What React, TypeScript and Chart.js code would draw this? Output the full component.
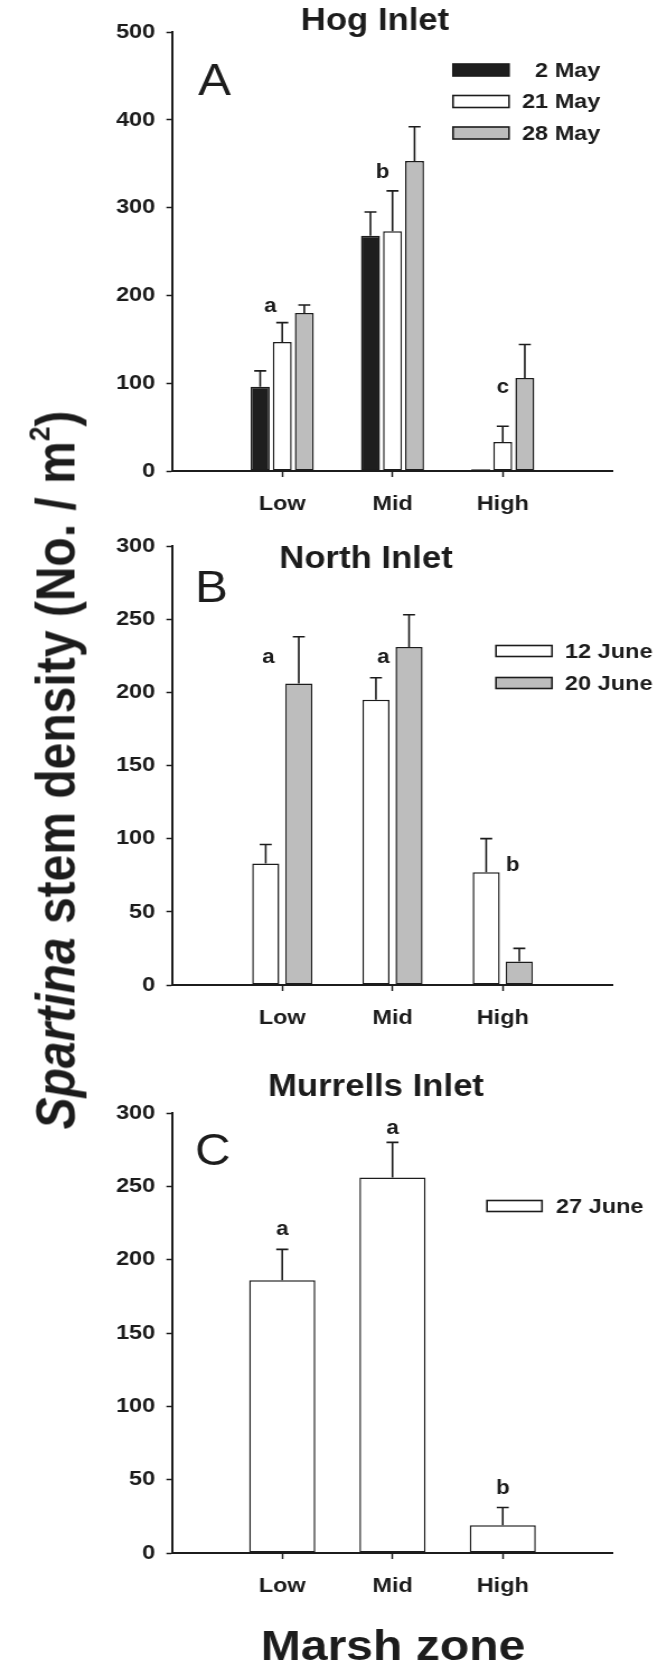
import React, { useEffect, useRef } from 'react';
import { Chart, registerables } from 'chart.js';

Chart.register(...registerables);

const FONT = '"Liberation Sans", Arial, Helvetica, sans-serif';
const INK = '#1c1c1c';
const BLACK_FILL = '#1e1e1e';
const WHITE_FILL = '#ffffff';
const GRAY_FILL = '#bdbdbd';
const PAGE_W = 667;
const CANVAS_W = 596;
const SX = PAGE_W / CANVAS_W; // the original figure is slightly stretched horizontally

// ---- categories ----
const zones = ['Low', 'Mid', 'High'];

// ---- Panel A: Hog Inlet ----
const hogDates = ['2 May', '21 May', '28 May'];
const hog2May = [96, 268, 2];
const hog2MayErr = [18, 27, 0];
const hog21May = [147, 273, 33];
const hog21MayErr = [22, 46, 18];
const hog28May = [180, 353, 106];
const hog28MayErr = [9, 39, 38];
const hogLetters = ['a', 'b', 'c'];
const hogLetterAt = [181, 334, 89];
const hogTicks = [0, 100, 200, 300, 400, 500];

// ---- Panel B: North Inlet ----
const northDates = ['12 June', '20 June'];
const north12Jun = [83, 195, 77];
const north12JunErr = [13, 15, 23];
const north20Jun = [206, 231, 16];
const north20JunErr = [32, 22, 9];
const northLetters = ['a', 'a', 'b'];
const northLetterAt = [220, 220, 78];
const northTicks = [0, 50, 100, 150, 200, 250, 300];

// ---- Panel C: Murrells Inlet ----
const murrellsDates = ['27 June'];
const murrells27Jun = [186, 256, 19];
const murrells27JunErr = [21, 24, 12];
const murrellsLetters = ['a', 'a', 'b'];
const murrellsLetterAt = [217, 286, 40];
const murrellsTicks = [0, 50, 100, 150, 200, 250, 300];

type Series = { label: string; values: number[]; errors: number[]; fill: string };
type Panel = {
  key: string;
  top: number;
  height: number;
  padTop: number;
  xHeight: number;
  title: string;
  titleX: number;
  titleY: number;
  tag: string;
  tagX: number;
  tagY: number;
  series: Series[];
  barPct: number;
  ticks: number[];
  letters: string[];
  letterAt: number[];
  letterDx: number[];
  legend: { x: number; y: number; dy: number; w: number; h: number; gap: number; alignRight: boolean };
  footer?: { text: string; x: number; y: number };
};

const panels: Panel[] = [
  {
    key: 'A',
    top: 0,
    height: 520,
    padTop: 32,
    xHeight: 49,
    title: 'Hog Inlet',
    titleX: 375,
    titleY: 30,
    tag: 'A',
    tagX: 198,
    tagY: 95,
    series: [
      { label: hogDates[0], values: hog2May, errors: hog2MayErr, fill: BLACK_FILL },
      { label: hogDates[1], values: hog21May, errors: hog21MayErr, fill: WHITE_FILL },
      { label: hogDates[2], values: hog28May, errors: hog28MayErr, fill: GRAY_FILL },
    ],
    barPct: 0.86,
    ticks: hogTicks,
    letters: hogLetters,
    letterAt: hogLetterAt,
    letterDx: [-12, -10, 0],
    legend: { x: 453, y: 70, dy: 31.5, w: 56, h: 12, gap: 13, alignRight: true },
  },
  {
    key: 'B',
    top: 520,
    height: 530,
    padTop: 26,
    xHeight: 65,
    title: 'North Inlet',
    titleX: 366,
    titleY: 568,
    tag: 'B',
    tagX: 195,
    tagY: 602,
    series: [
      { label: northDates[0], values: north12Jun, errors: north12JunErr, fill: WHITE_FILL },
      { label: northDates[1], values: north20Jun, errors: north20JunErr, fill: GRAY_FILL },
    ],
    barPct: 0.82,
    ticks: northTicks,
    letters: northLetters,
    letterAt: northLetterAt,
    letterDx: [-14, -9, 10],
    legend: { x: 496, y: 651, dy: 32, w: 56, h: 11, gap: 13, alignRight: false },
  },
  {
    key: 'C',
    top: 1050,
    height: 619,
    padTop: 63,
    xHeight: 116,
    title: 'Murrells Inlet',
    titleX: 376,
    titleY: 1096,
    tag: 'C',
    tagX: 195,
    tagY: 1165,
    series: [{ label: murrellsDates[0], values: murrells27Jun, errors: murrells27JunErr, fill: WHITE_FILL }],
    barPct: 1.0,
    ticks: murrellsTicks,
    letters: murrellsLetters,
    letterAt: murrellsLetterAt,
    letterDx: [0, 0, 0],
    legend: { x: 487, y: 1206, dy: 32, w: 55, h: 11, gap: 14, alignRight: false },
    footer: { text: 'Marsh zone', x: 393, y: 1660 },
  },
];

function makeDecor(p: Panel) {
  return {
    id: 'decor' + p.key,
    afterDatasetsDraw(chart: any) {
      const ctx = chart.ctx as CanvasRenderingContext2D;
      const xs = chart.scales.x;
      const ys = chart.scales.y;
      const X = (x: number) => x / SX;
      const Y = (y: number) => y - p.top;
      ctx.save();
      // error bars (upper only)
      ctx.strokeStyle = INK;
      ctx.lineWidth = 1.6;
      p.series.forEach((s, i) => {
        const meta = chart.getDatasetMeta(i);
        meta.data.forEach((bar: any, j: number) => {
          const k = j - 1;
          if (k < 0 || k >= s.values.length) return;
          const e = s.errors[k];
          if (!e) return;
          const yTop = ys.getPixelForValue(s.values[k] + e);
          const half = 12 / SX / 2;
          ctx.beginPath();
          ctx.moveTo(bar.x, bar.y);
          ctx.lineTo(bar.x, yTop);
          ctx.moveTo(bar.x - half, yTop);
          ctx.lineTo(bar.x + half, yTop);
          ctx.stroke();
        });
      });
      ctx.fillStyle = INK;
      // title
      ctx.font = `bold 31px ${FONT}`;
      ctx.textAlign = 'center';
      ctx.textBaseline = 'alphabetic';
      ctx.fillText(p.title, X(p.titleX), Y(p.titleY));
      // panel tag
      ctx.font = `44px ${FONT}`;
      ctx.textAlign = 'left';
      ctx.fillText(p.tag, X(p.tagX), Y(p.tagY));
      // significance letters
      ctx.font = `bold 20px ${FONT}`;
      ctx.textAlign = 'center';
      p.letters.forEach((t, k) => {
        const x = xs.getPixelForValue(k + 1) + p.letterDx[k] / SX;
        const y = ys.getPixelForValue(p.letterAt[k]);
        ctx.fillText(t, x, y);
      });
      // legend
      ctx.font = `bold 21px ${FONT}`;
      const maxW = Math.max(...p.series.map((s) => ctx.measureText(s.label).width));
      const L = p.legend;
      p.series.forEach((s, k) => {
        const cy = Y(L.y + k * L.dy);
        const bx = X(L.x);
        const bw = L.w / SX;
        ctx.fillStyle = s.fill;
        ctx.fillRect(bx, cy - L.h / 2, bw, L.h);
        ctx.strokeStyle = INK;
        ctx.lineWidth = 1.6;
        ctx.strokeRect(bx, cy - L.h / 2, bw, L.h);
        ctx.fillStyle = INK;
        ctx.textBaseline = 'middle';
        const tx = bx + bw + L.gap / SX;
        if (L.alignRight) {
          ctx.textAlign = 'right';
          ctx.fillText(s.label, tx + maxW, cy + 1);
        } else {
          ctx.textAlign = 'left';
          ctx.fillText(s.label, tx, cy + 1);
        }
      });
      // axis title under the last panel
      if (p.footer) {
        ctx.font = `bold 43px ${FONT}`;
        ctx.textAlign = 'center';
        ctx.textBaseline = 'alphabetic';
        ctx.fillText(p.footer.text, X(p.footer.x), Y(p.footer.y));
      }
      ctx.restore();
    },
  };
}

function buildConfig(p: Panel): any {
  const tickFont = { family: FONT, size: 21, weight: 'bold' as const };
  return {
    type: 'bar',
    data: {
      labels: ['', ...zones, ''],
      datasets: p.series.map((s) => ({
        label: s.label,
        data: [null, ...s.values, null],
        backgroundColor: s.fill,
        borderColor: INK,
        borderWidth: 1.5,
        borderSkipped: false,
        categoryPercentage: 0.6,
        barPercentage: p.barPct,
      })),
    },
    options: {
      responsive: false,
      animation: false,
      devicePixelRatio: 1,
      layout: { padding: { top: p.padTop, right: CANVAS_W - 613 / SX, bottom: 0, left: 0 } },
      plugins: { legend: { display: false }, tooltip: { enabled: false }, title: { display: false } },
      scales: {
        x: {
          offset: false,
          grid: {
            display: true,
            offset: false,
            drawOnChartArea: false,
            drawTicks: true,
            tickLength: 6,
            tickWidth: 1.5,
            tickColor: (c: any) => (c.index === 0 || c.index === 4 ? 'rgba(0,0,0,0)' : INK),
          },
          border: { display: true, color: INK, width: 2 },
          ticks: { color: INK, padding: 15, font: tickFont, maxRotation: 0, autoSkip: false },
          afterFit: (s: any) => {
            s.height = p.xHeight;
          },
        },
        y: {
          min: p.ticks[0],
          max: p.ticks[p.ticks.length - 1],
          grid: { drawOnChartArea: false, drawTicks: true, tickLength: 5, tickWidth: 1.5, tickColor: INK },
          border: { display: true, color: INK, width: 2 },
          ticks: { stepSize: p.ticks[1] - p.ticks[0], color: INK, padding: 10, font: tickFont },
          afterFit: (s: any) => {
            s.width = 172 / SX;
          },
        },
      },
    },
    plugins: [makeDecor(p)],
  };
}

function PanelChart({ panel }: { panel: Panel }) {
  const ref = useRef<HTMLCanvasElement>(null);
  useEffect(() => {
    if (!ref.current) return;
    const chart = new Chart(ref.current, buildConfig(panel));
    return () => chart.destroy();
  }, [panel]);
  return (
    <canvas
      ref={ref}
      width={CANVAS_W}
      height={panel.height}
      style={{ position: 'absolute', left: 0, top: panel.top, width: PAGE_W, height: panel.height, display: 'block' }}
    />
  );
}

export default function App() {
  return (
    <div style={{ position: 'absolute', left: 0, top: 0, width: PAGE_W, height: 1669, background: '#fff', overflow: 'hidden' }}>
      {panels.map((p) => (
        <PanelChart key={p.key} panel={p} />
      ))}
      <div
        style={{
          position: 'absolute',
          left: 60,
          top: 770,
          transform: 'translate(-50%, -50%) rotate(-90deg) scaleY(1.15)',
          whiteSpace: 'nowrap',
          fontFamily: FONT,
          fontWeight: 700,
          fontSize: 48,
          lineHeight: '48px',
          color: INK,
        }}
      >
        <i>Spartina</i> stem density (No. / m
        <span style={{ fontSize: '0.55em', position: 'relative', top: '-0.85em' }}>2</span>)
      </div>
    </div>
  );
}
